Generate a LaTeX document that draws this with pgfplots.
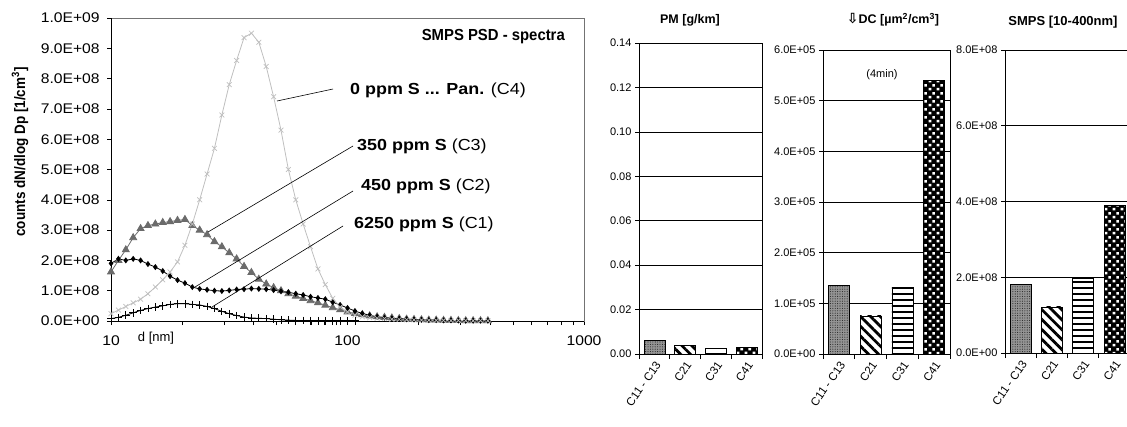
\documentclass[border=0pt]{standalone}
\usepackage{fontspec}
\setmainfont{Liberation Sans}
\newfontfamily\dejavu{DejaVu Sans}
\usepackage{pgfplots}
\usepackage{pgfplotstable}
\pgfplotsset{compat=1.18}
\usetikzlibrary{patterns,patterns.meta}
\newcommand\fs[1]{\fontsize{#1}{#1}\selectfont}
\pgfdeclarepatternformonly{wsq}{\pgfpointorigin}{\pgfqpoint{8pt}{8pt}}{\pgfqpoint{8pt}{8pt}}{%
 \pgfpathrectangle{\pgfqpoint{0.8pt}{0.8pt}}{\pgfqpoint{2.8pt}{2.8pt}}%
 \pgfpathrectangle{\pgfqpoint{4.8pt}{4.8pt}}{\pgfqpoint{2.8pt}{2.8pt}}%
 \pgfusepath{fill}}

% particle size distributions, values in 1E+08 1/cm3
\pgfplotstableread{
d c4 c3 c2 c1
10.00 0.24 1.62 1.90 0.08
10.75 0.36 2.00 2.05 0.12
11.55 0.48 2.35 2.00 0.19
12.41 0.60 2.75 2.05 0.27
13.34 0.72 3.05 2.00 0.35
14.33 0.90 3.15 1.88 0.41
15.40 1.12 3.20 1.78 0.46
16.55 1.36 3.25 1.65 0.50
17.78 1.62 3.28 1.48 0.55
19.11 1.95 3.32 1.35 0.57
20.54 2.50 3.35 1.25 0.57
22.07 3.20 3.15 1.12 0.55
23.71 4.00 3.00 1.06 0.53
25.48 4.85 2.85 1.03 0.48
27.38 5.70 2.62 1.00 0.41
29.43 6.80 2.45 0.99 0.32
31.62 7.80 2.25 1.01 0.24
33.98 8.60 2.05 1.04 0.18
36.52 9.35 1.80 1.05 0.13
39.24 9.50 1.60 1.07 0.10
42.17 9.20 1.38 1.06 0.09
45.32 8.40 1.22 1.05 0.08
48.70 7.40 1.10 1.02 0.06
52.33 6.30 1.00 0.98 0.04
56.23 5.00 0.90 0.95 0.03
60.43 4.00 0.82 0.90 0.02
64.94 3.20 0.74 0.86 0.02
69.78 2.45 0.67 0.80 0.01
74.99 1.72 0.60 0.76 0.01
80.58 1.20 0.52 0.72 0.01
86.60 0.75 0.44 0.62 0.01
93.06 0.46 0.37 0.53 0.01
100.0 0.30 0.30 0.43 0.01
107.5 0.19 0.25 0.33 0.01
115.5 0.14 0.21 0.25 nan
124.1 0.11 0.17 0.19 nan
133.4 0.09 0.14 0.14 nan
143.3 0.08 0.12 0.11 nan
154.0 0.06 0.10 0.09 nan
165.5 0.05 0.08 0.08 nan
177.8 0.04 0.06 0.06 nan
191.1 0.035 0.05 0.05 nan
205.4 0.03 0.04 0.04 nan
220.7 0.025 0.03 0.03 nan
237.1 0.02 0.03 0.03 nan
254.8 0.02 0.02 0.02 nan
273.8 0.015 0.02 0.02 nan
294.3 0.015 0.015 0.015 nan
316.2 0.01 0.01 0.01 nan
339.8 0.01 0.01 0.01 nan
365.2 0.01 0.01 0.01 nan
392.4 0.01 0.01 0.01 nan
}\psd

\pgfplotsset{
 barax/.style={scale only axis, anchor=south west, ymin=0, xmin=-0.5, xmax=3.5,
   scaled y ticks=false,
   xtick={0,1,2,3}, xticklabels={C11 - C13,C21,C31,C41},
   major x tick style={draw=none},
   minor xtick={-0.5,0.5,1.5,2.5,3.5}, minor tick length=5pt, major tick length=4pt,
   tick align=outside, xtick pos=bottom, ytick pos=left,
   ymajorgrids, grid style={black, line width=0.6pt},
   axis line style={black, line width=0.7pt}, tick style={black, line width=0.6pt},
   yticklabel style={font=\fs{11}},
   xticklabel style={rotate=55, anchor=north east, font=\fs{11.5}, inner sep=1.5pt}},
 bb/.style={ybar, bar width=21pt, bar shift=0pt, draw=black, line width=0.5pt},
 b1/.style={bb, fill=black!42, postaction={pattern={Dots[distance=2.4pt, radius=0.55pt]}, pattern color=black!85}},
 b2/.style={bb, fill=white, postaction={pattern={Lines[angle=-45, distance=7pt, line width=2.8pt]}, pattern color=black}},
 b3/.style={bb, fill=white, postaction={pattern={Lines[angle=0, distance=6pt, line width=2.6pt]}, pattern color=black}},
 b4/.style={bb, fill=black, postaction={pattern=wsq, pattern color=white}},
}

\begin{document}
\begin{tikzpicture}
\path[use as bounding box] (0pt,0pt) rectangle (1127pt,-426pt);

% ---------- left: SMPS PSD spectra ----------
\begin{axis}[
  at={(111pt,-321pt)}, anchor=south west, scale only axis,
  width=473pt, height=303pt,
  xmode=log, xmin=10, xmax=1000, ymin=0, ymax=10,
  xtick={10,100,1000}, xticklabels={10,100,1000},
  minor xtick={20,30,40,50,60,70,80,90,200,300,400,500,600,700,800,900},
  ytick={0,1,2,3,4,5,6,7,8,9,10},
  yticklabels={0.0E+00,1.0E+08,2.0E+08,3.0E+08,4.0E+08,5.0E+08,6.0E+08,7.0E+08,8.0E+08,9.0E+08,1.0E+09},
  tick align=outside, xtick pos=bottom, ytick pos=left,
  major tick length=4pt, minor tick length=4pt,
  axis line style={draw=black!55, line width=0.8pt},
  tick style={black, line width=0.6pt},
  yticklabel style={font=\fs{14}, xscale=1.12, xshift=-3pt},
  xticklabel style={font=\fs{14}, xscale=1.12, yshift=-7pt},
]
\addplot[black!58, line width=0.8pt, mark=triangle*, mark size=4pt, mark options={solid, fill=black!58}] table[x=d, y=c3] {\psd};
\addplot[black, line width=0.8pt, mark=diamond*, mark size=2.4pt] table[x=d, y=c2] {\psd};
\addplot[black, line width=0.8pt, mark=+, mark size=3.8pt, mark options={line width=0.8pt}] table[x=d, y=c1] {\psd};
\addplot[black!25, line width=0.8pt, mark=x, mark size=3.4pt, mark options={line width=0.7pt}] table[x=d, y=c4] {\psd};
\draw[black, line width=0.9pt] (rel axis cs:0,1) -- (rel axis cs:0,0) -- (rel axis cs:1,0);
\end{axis}

\draw[black, line width=0.6pt] (277pt,-101pt) -- (333pt,-89pt);
\draw[black, line width=0.6pt] (208pt,-232pt) -- (353pt,-146pt);
\draw[black, line width=0.6pt] (195pt,-287pt) -- (353pt,-191pt);
\draw[black, line width=0.6pt] (212pt,-307pt) -- (343pt,-226pt);

\node[anchor=east, font={\fs{16}\bfseries}, xscale=0.93, inner sep=0pt] at (565pt,-37pt) {SMPS PSD - spectra};
\node[anchor=west, font=\fs{16}, xscale=1.12, inner sep=0pt] at (350pt,-90pt) {\textbf{0 ppm S ... Pan.} (C4)};
\node[anchor=west, font=\fs{16}, xscale=1.12, inner sep=0pt] at (357pt,-146pt) {\textbf{350 ppm S} (C3)};
\node[anchor=west, font=\fs{16}, xscale=1.12, inner sep=0pt] at (361pt,-186pt) {\textbf{450 ppm S} (C2)};
\node[anchor=west, font=\fs{16}, xscale=1.12, inner sep=0pt] at (354pt,-224pt) {\textbf{6250 ppm S} (C1)};
\node[font=\fs{13}, inner sep=0pt] at (156pt,-338pt) {d [nm]};
\node[rotate=90, font={\fs{13.5}\bfseries}, inner sep=0pt, yscale=1.12] at (20pt,-152pt) {counts dN/dlog Dp [1/cm\textsuperscript{3}]};

% ---------- PM ----------
\begin{axis}[barax, at={(639pt,-354pt)}, width=123pt, height=311pt,
  ymax=0.14, ytick={0,0.02,0.04,0.06,0.08,0.10,0.12,0.14},
  yticklabels={0.00,0.02,0.04,0.06,0.08,0.10,0.12,0.14}]
\addplot[b1] coordinates {(0,0.0062)};
\addplot[b2] coordinates {(1,0.0038)};
\addplot[b3] coordinates {(2,0.0025)};
\addplot[b4] coordinates {(3,0.0032)};
\end{axis}
\node[font={\fs{12.5}\bfseries}] at (690pt,-20pt) {PM [g/km]};

% ---------- DC ----------
\begin{axis}[barax, at={(823pt,-354pt)}, width=127pt, height=304pt,
  ymax=600000, ytick={0,100000,200000,300000,400000,500000,600000},
  yticklabels={0.0E+00,1.0E+05,2.0E+05,3.0E+05,4.0E+05,5.0E+05,6.0E+05}]
\addplot[b1] coordinates {(0,136000)};
\addplot[b2] coordinates {(1,75500)};
\addplot[b3] coordinates {(2,131000)};
\addplot[b4] coordinates {(3,540000)};
\end{axis}
\node[font={\fs{12.5}\bfseries}] at (893pt,-20pt) {{\dejavu\bfseries\fs{14}⇩}DC [µm\textsuperscript{2}/cm\textsuperscript{3}]};
\node[font=\fs{11}] at (882pt,-75pt) {(4min)};

% ---------- SMPS ----------
\begin{axis}[barax, at={(1005pt,-353pt)}, width=125pt, height=303pt,
  ymax=800000000, ytick={0,200000000,400000000,600000000,800000000},
  yticklabels={0.0E+00,2.0E+08,4.0E+08,6.0E+08,8.0E+08}]
\addplot[b1] coordinates {(0,181000000)};
\addplot[b2] coordinates {(1,122000000)};
\addplot[b3] coordinates {(2,197000000)};
\addplot[b4] coordinates {(3,391000000)};
\end{axis}
\node[font={\fs{13}\bfseries}] at (1063pt,-22pt) {SMPS [10-400nm]};
\end{tikzpicture}
\end{document}
